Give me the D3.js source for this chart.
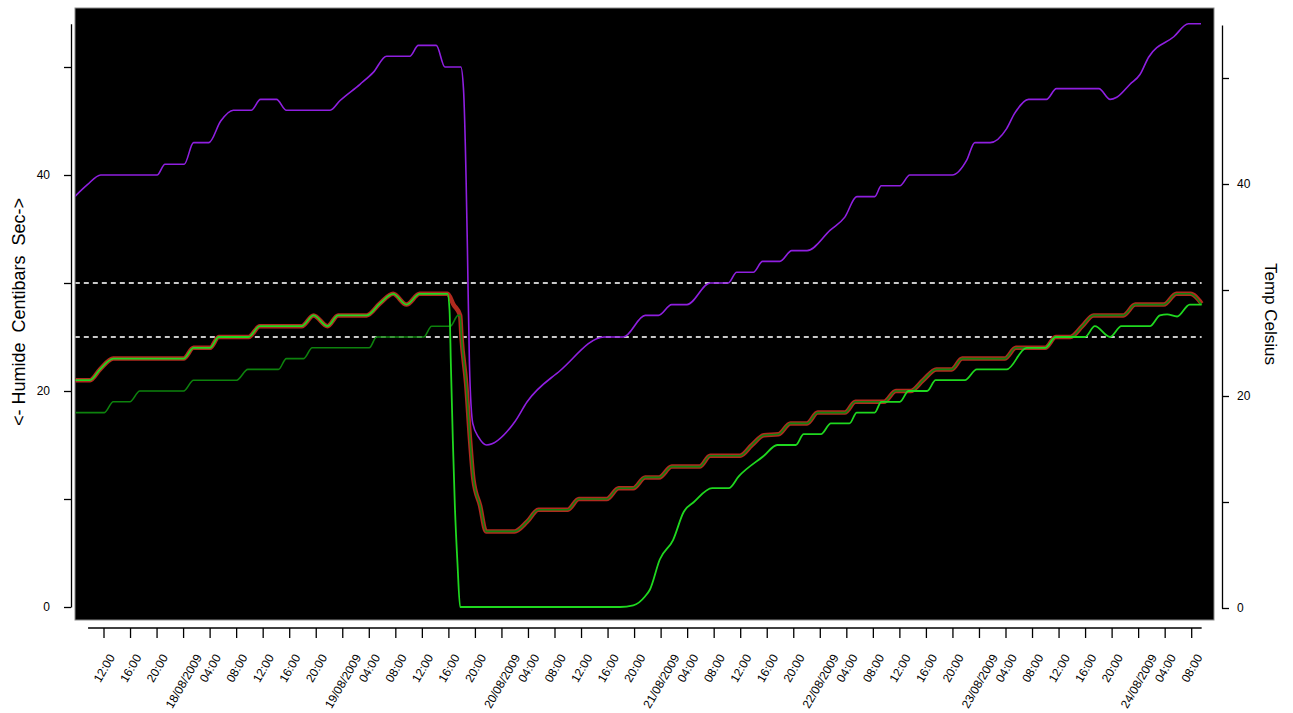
<!DOCTYPE html>
<html>
<head>
<meta charset="utf-8">
<script src="https://cdn.jsdelivr.net/npm/d3@7"></script>
<style>
  html, body { margin: 0; padding: 0; background: #ffffff; }
  svg { display: block; font-family: "Liberation Sans", Arial, sans-serif; }
</style>
</head>
<body>
<svg id="chart" width="1293" height="713"></svg>
<script>
// Hours counted from 17/08/2009 00:00, values in centibars.
const sensorViolet = [
  [7.6,38],[9.5,39.1],[11.5,40],[20,40],[21.2,41],[24.1,41],[25.5,43],[27.8,43],
  [29.6,45],[31.5,46],[34.2,46],[35.6,47],[38,47],[39.5,46],[46.1,46],[47.6,46.9],
  [50.6,48.4],[52.6,49.5],[54.6,51],[58.1,51],[59.4,52],[62.1,52],[63.4,50],[65.8,50],
  [66.2,48],[66.6,39.5],[66.8,33],[67.1,22.5],[67.6,17],[68.5,15.7],[69.7,15],
  [74,17.2],[75.8,19],[80.8,21.9],[87.4,25],[90.3,25],[93.6,27],[95.6,27],[97.6,28],
  [99.9,28],[103.4,30],[106.1,30],[107.4,31],[109.9,31],[111.3,32],[113.9,32],
  [115.7,33],[118,33],[121.5,34.9],[123.7,36.1],[125.5,38],[128.2,38],[129.2,39],
  [132,39],[133.5,40],[139.9,40],[142.1,41.4],[143.3,43],[145.6,43],[148.1,44.3],
  [149.3,45.7],[151.4,47],[154.1,47],[155.6,48],[162,48],[163.7,47],[164.7,47.2],
  [166.7,48.4],[168.2,49.3],[169.5,50.9],[173.3,52.8],[175.5,54],[177.4,54]
];

const sensorRed = [
  [7.6,21],[9.9,21],[11.4,22],[13.4,23],[24,23],[25.5,24],[28,24],[29.3,25],
  [33.8,25],[35.5,26],[41.8,26],[43.6,27],[45.7,26],[47.3,27],[51.6,27],[53.6,28.1],
  [55.6,29],[57.6,28],[59.6,29],[63.8,29],[64.7,28],[65.7,27],[65.9,25],[66.6,20.7],
  [67.2,15.4],[67.7,11.8],[68.7,9.4],[69.6,7],[73.9,7],[75.8,7.9],[77.5,9],[81.9,9],
  [83.6,10],[87.8,10],[89.6,11],[91.8,11],[93.6,12],[95.7,12],[97.6,13],[101.8,13],
  [103.4,14],[107.9,14],[109.7,15],[111.5,15.9],[113.7,16],[115.5,17],[118,17],
  [119.6,18],[123.7,18],[125.3,19],[129.6,19],[131.4,20],[133.6,20],[135.5,21],
  [137.5,22],[139.8,22],[141.4,23],[147.8,23],[149.5,24],[153.9,24],[155.5,25],
  [157.7,25],[159.5,26],[161.2,27],[165.7,27],[167.5,28],[171.8,28],[173.7,29],
  [175.8,29],[177.5,28.1]
];

const sensorLime = [
  [7.6,21],[9.9,21],[11.4,22],[13.4,23],[24,23],[25.5,24],[28,24],[29.3,25],
  [33.8,25],[35.5,26],[41.8,26],[43.6,27],[45.7,26],[47.3,27],[51.6,27],[53.6,28.1],
  [55.6,29],[57.6,28],[59.6,29],[63.8,29],[64.1,27.5],[64.3,22.5],[64.6,15.4],
  [64.9,9.4],[65.3,4],[65.7,0],[89.8,0],[91.8,0.15],[93.6,1],[94.3,1.6],[95.8,4.4],
  [97.8,6.2],[99.4,8.8],[100.9,9.7],[103.7,11],[106.2,11],[107.7,12.1],[111.5,14],
  [113.5,15],[116.3,15],[117.5,16],[120.1,16],[121.6,17],[124.4,17],[125.5,18],
  [128.2,18],[129.2,19],[132,19],[133.3,20],[136.1,20],[137.4,21],[141.8,21],
  [143.6,22],[148.1,22],[151.1,24],[153.9,24],[155.5,25],[159.9,25],[161.4,26],
  [163.7,25],[165.4,26],[169.7,26],[171.2,27],[172.3,27.1],[173.8,26.9],[175.7,28],
  [177.5,28]
];

const sensorGreen = [
  [7.6,18],[12.05,18],[13.4,19],[15.9,19],[17.4,20],[24,20],[25.5,21],[32,21],
  [33.7,22],[38.3,22],[39.5,23],[42.1,23],[43.4,24],[52,24],[53.1,25],[60.2,25],
  [61.4,26],[64.2,26],[65.4,27],[65.7,27],[65.9,25],[66.6,20.7],[67.2,15.4],
  [67.7,11.8],[68.7,9.4],[69.6,7],[73.9,7],[75.8,7.9],[77.5,9],[81.9,9],[83.6,10],
  [87.8,10],[89.6,11],[91.8,11],[93.6,12],[95.7,12],[97.6,13],[101.8,13],[103.4,14],
  [107.9,14],[109.7,15],[111.5,15.9],[113.7,16],[115.5,17],[118,17],[119.6,18],
  [123.7,18],[125.3,19],[129.6,19],[131.4,20],[133.6,20],[135.5,21],[137.5,22],
  [139.8,22],[141.4,23],[147.8,23],[149.5,24],[153.9,24],[155.5,25],[157.7,25],
  [159.5,26],[161.2,27],[165.7,27],[167.5,28],[171.8,28],[173.7,29],[175.8,29],
  [177.5,28]
];

// Threshold lines (centibars)
const thresholds = [25, 30];

// Axis ticks
const leftTicks = [0, 10, 20, 30, 40, 50];
const leftLabels = ["0", "", "20", "", "40", ""];
const rightTicks = [0, 10, 20, 30, 40, 50];
const rightLabels = ["0", "", "20", "", "40", ""];

const yTitleLeft = "<- Humide  Centibars  Sec->";
const yTitleRight = "Temp Celsius";

// Recorded period and span of the x axis line (hours)
const recordSpan = [7.6, 177.5];
const axisSpan = [9.6, 177.5];
const tickStart = 12, tickEnd = 176;   // 17/08 12:00 .. 24/08 08:00

const base = Date.UTC(2009, 7, 17);
const toDate = h => new Date(base + h * 3600e3);

const svg = d3.select("#chart");

const plot = { left: 75, right: 1214, top: 8, bottom: 620 };

const x = d3.scaleUtc()
  .domain([toDate(tickStart), toDate(tickEnd)])
  .range([104, 1191.7]);

const yL = d3.scaleLinear().domain([0, 54]).range([607, 23.8]);
const yR = d3.scaleLinear().domain([0, 55]).range([608, 25]);

// Black plotting panel
svg.append("rect")
  .attr("x", plot.left).attr("y", plot.top)
  .attr("width", plot.right - plot.left).attr("height", plot.bottom - plot.top)
  .attr("fill", "#000").attr("stroke", "#8a8a8a").attr("stroke-width", 1);

svg.append("clipPath").attr("id", "clip")
  .append("rect")
  .attr("x", plot.left + 0.5).attr("y", plot.top + 0.5)
  .attr("width", plot.right - plot.left - 1).attr("height", plot.bottom - plot.top - 1);

const g = svg.append("g").attr("clip-path", "url(#clip)");

// Dashed threshold lines across the recorded period
g.selectAll("line.thr").data(thresholds).join("line")
  .attr("class", "thr")
  .attr("x1", x(toDate(recordSpan[0]))).attr("x2", x(toDate(recordSpan[1])))
  .attr("y1", d => yL(d)).attr("y2", d => yL(d))
  .attr("stroke", "#c8c8c8").attr("stroke-width", 2)
  .attr("stroke-dasharray", "5,4");

const line = d3.line()
  .x(d => x(toDate(d[0])))
  .y(d => yL(d[1]))
  .curve(d3.curveMonotoneX);

const series = [
  { data: sensorViolet, color: "#8f1fe0", width: 1.6 },
  { data: sensorRed, color: "#b02a1e", width: 4.5 },
  { data: sensorGreen, color: "#0d820d", width: 1.6 },
  { data: sensorLime, color: "#1fd81f", width: 1.8 }
];

g.selectAll("path.series").data(series).join("path")
  .attr("class", "series")
  .attr("d", d => line(d.data))
  .attr("fill", "none")
  .attr("stroke", d => d.color)
  .attr("stroke-width", d => d.width)
  .attr("stroke-linejoin", "round");

// Left axis
const axL = svg.append("g").attr("transform", "translate(71,0)")
  .call(d3.axisLeft(yL).tickValues(leftTicks)
    .tickFormat((d, i) => leftLabels[i]).tickSize(7).tickSizeOuter(0).tickPadding(14));
axL.selectAll("path, line").attr("stroke", "#000").attr("stroke-width", 1.3);
axL.selectAll("text").attr("font-size", 12).attr("fill", "#000")
  .attr("font-family", "Liberation Sans, Arial, sans-serif");

// Right axis
const axR = svg.append("g").attr("transform", "translate(1222,0)")
  .call(d3.axisRight(yR).tickValues(rightTicks)
    .tickFormat((d, i) => rightLabels[i]).tickSize(7).tickSizeOuter(0).tickPadding(8));
axR.selectAll("path, line").attr("stroke", "#000").attr("stroke-width", 1.3);
axR.selectAll("text").attr("font-size", 12).attr("fill", "#000")
  .attr("font-family", "Liberation Sans, Arial, sans-serif");

// Bottom time axis
const tickDates = d3.utcHour.every(4).range(toDate(tickStart), toDate(tickEnd + 1));
const fmtDay = d3.utcFormat("%d/%m/%Y");
const fmtHour = d3.utcFormat("%H:%M");
const fmtTick = d => d.getUTCHours() === 0 ? fmtDay(d) : fmtHour(d);

const axB = svg.append("g").attr("transform", "translate(0,628)");
axB.append("line")
  .attr("x1", x(toDate(axisSpan[0]))).attr("x2", x(toDate(axisSpan[1])))
  .attr("y1", 0).attr("y2", 0)
  .attr("stroke", "#000").attr("stroke-width", 1.3);
axB.selectAll("line.tick").data(tickDates).join("line")
  .attr("class", "tick")
  .attr("x1", d => x(d)).attr("x2", d => x(d))
  .attr("y1", 0).attr("y2", 10)
  .attr("stroke", "#000").attr("stroke-width", 1.3);

// Rotated labels: bounding box top-centred under each tick
const fs = 12, asc = 0.72 * fs, ang = 60;
const cs = Math.cos(ang * Math.PI / 180), sn = Math.sin(ang * Math.PI / 180);
const labels = svg.append("g").selectAll("text").data(tickDates).join("text")
  .attr("font-size", fs)
  .attr("text-anchor", "end")
  .attr("fill", "#000")
  .text(fmtTick);
labels.each(function (d) {
  const L = this.getComputedTextLength();
  const ax = x(d) + (cs * L + sn * asc) / 2;
  const ay = 653 + cs * asc;
  d3.select(this).attr("transform", `translate(${ax},${ay}) rotate(${-ang})`);
});

// Axis titles
svg.append("text")
  .attr("transform", "translate(25,312) rotate(-90)")
  .attr("text-anchor", "middle")
  .attr("font-size", 18)
  .attr("fill", "#000")
  .style("white-space", "pre")
  .text(yTitleLeft);

svg.append("text")
  .attr("transform", "translate(1265,314) rotate(90)")
  .attr("text-anchor", "middle")
  .attr("font-size", 17)
  .attr("fill", "#000")
  .text(yTitleRight);
</script>
</body>
</html>
